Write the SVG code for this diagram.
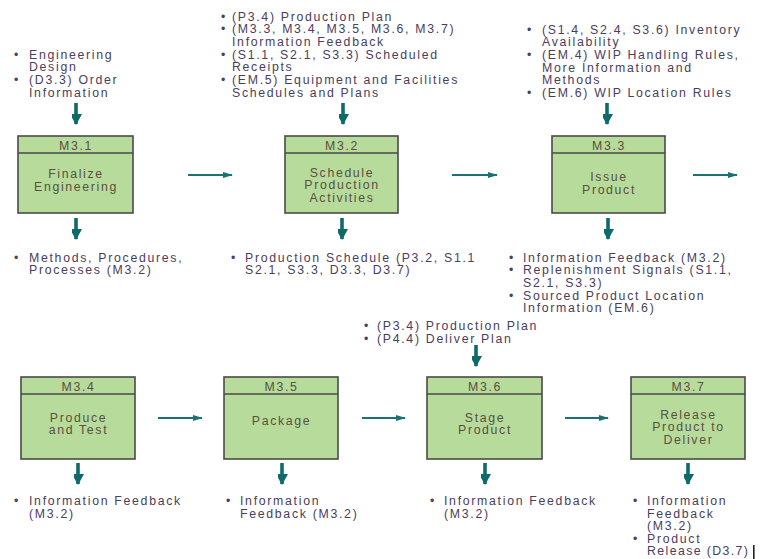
<svg xmlns="http://www.w3.org/2000/svg" width="762" height="559" viewBox="0 0 762 559">
<style>
.box{fill:#b7db9b;stroke:#4a4a4a;stroke-width:1.6}
.hdr{fill:none;stroke:#4a4a4a;stroke-width:1.3}
.bt{font-family:"Liberation Sans",Arial,sans-serif;font-size:12.3px;letter-spacing:1.65px;fill:#5a5040;text-anchor:middle}
.lt{font-family:"Liberation Sans",Arial,sans-serif;font-size:12.3px;letter-spacing:1.7px;fill:#4a3d60}
.h{stroke:#1a7272;stroke-width:2.2;fill:none}
.v{stroke:#0f6a6a;stroke-width:3.6;fill:none}
</style>
<defs>
<marker id="ah" markerWidth="10" markerHeight="8" refX="9" refY="4" orient="auto" markerUnits="userSpaceOnUse"><path d="M0,1 L10,4 L0,7 Z" fill="#1a7272"/></marker>
<marker id="av" markerWidth="12" markerHeight="10" refX="10" refY="6" orient="auto" markerUnits="userSpaceOnUse"><path d="M0,0 L11,6 L0,12 Z" fill="#0f6a6a"/></marker>
</defs>
<rect width="762" height="559" fill="#ffffff"/>

<g id="connectors">
<line class="h" x1="188" y1="175" x2="232" y2="175" marker-end="url(#ah)"/>
<line class="h" x1="452" y1="175" x2="497" y2="175" marker-end="url(#ah)"/>
<line class="h" x1="693" y1="175" x2="737" y2="175" marker-end="url(#ah)"/>
<line class="h" x1="158" y1="418" x2="202" y2="418" marker-end="url(#ah)"/>
<line class="h" x1="362" y1="418" x2="405" y2="418" marker-end="url(#ah)"/>
<line class="h" x1="565" y1="418" x2="608" y2="418" marker-end="url(#ah)"/>
<line class="v" x1="76" y1="103" x2="76" y2="124" marker-end="url(#av)"/>
<line class="v" x1="343" y1="103" x2="343" y2="124" marker-end="url(#av)"/>
<line class="v" x1="607" y1="103" x2="607" y2="124" marker-end="url(#av)"/>
<line class="v" x1="76" y1="218" x2="76" y2="239" marker-end="url(#av)"/>
<line class="v" x1="342" y1="218" x2="342" y2="239" marker-end="url(#av)"/>
<line class="v" x1="608" y1="218" x2="608" y2="239" marker-end="url(#av)"/>
<line class="v" x1="476" y1="345" x2="476" y2="366" marker-end="url(#av)"/>
<line class="v" x1="78" y1="463" x2="78" y2="484" marker-end="url(#av)"/>
<line class="v" x1="282" y1="463" x2="282" y2="484" marker-end="url(#av)"/>
<line class="v" x1="485" y1="463" x2="485" y2="484" marker-end="url(#av)"/>
<line class="v" x1="688" y1="463" x2="688" y2="484" marker-end="url(#av)"/>
</g>

<g id="m31">
<rect class="box" x="18" y="136" width="115" height="77"/>
<line class="hdr" x1="18" y1="153" x2="133" y2="153"/>
<text class="bt" x="76" y="149.5">M3.1</text>
<text class="bt" x="76" y="177.5">Finalize</text>
<text class="bt" x="76" y="190.5">Engineering</text>
</g>
<g id="m32">
<rect class="box" x="285" y="136" width="113" height="77"/>
<line class="hdr" x1="285" y1="153" x2="398" y2="153"/>
<text class="bt" x="342" y="149.5">M3.2</text>
<text class="bt" x="342" y="176.5">Schedule</text>
<text class="bt" x="342" y="189.2">Production</text>
<text class="bt" x="342" y="201.9">Activities</text>
</g>
<g id="m33">
<rect class="box" x="552" y="136" width="113" height="77"/>
<line class="hdr" x1="552" y1="153" x2="665" y2="153"/>
<text class="bt" x="609" y="149.5">M3.3</text>
<text class="bt" x="609" y="181">Issue</text>
<text class="bt" x="609" y="194">Product</text>
</g>
<g id="m34">
<rect class="box" x="21" y="377" width="114" height="82"/>
<line class="hdr" x1="21" y1="394" x2="135" y2="394"/>
<text class="bt" x="78.5" y="390.5">M3.4</text>
<text class="bt" x="78.5" y="421.5">Produce</text>
<text class="bt" x="78.5" y="434.2">and Test</text>
</g>
<g id="m35">
<rect class="box" x="224" y="377" width="114" height="82"/>
<line class="hdr" x1="224" y1="394" x2="338" y2="394"/>
<text class="bt" x="281.5" y="390.5">M3.5</text>
<text class="bt" x="281.5" y="424.5">Package</text>
</g>
<g id="m36">
<rect class="box" x="427" y="377" width="115" height="82"/>
<line class="hdr" x1="427" y1="394" x2="542" y2="394"/>
<text class="bt" x="485" y="390.5">M3.6</text>
<text class="bt" x="485" y="421.5">Stage</text>
<text class="bt" x="485" y="434.2">Product</text>
</g>
<g id="m37">
<rect class="box" x="631" y="377" width="114" height="82"/>
<line class="hdr" x1="631" y1="394" x2="745" y2="394"/>
<text class="bt" x="688.5" y="390.5">M3.7</text>
<text class="bt" x="688.5" y="418.5">Release</text>
<text class="bt" x="688.5" y="431.2">Product to</text>
<text class="bt" x="688.5" y="443.9">Deliver</text>
</g>

<g id="in31" class="lt">
<text x="14" y="58.5">•</text><text x="29" y="58.5">Engineering</text>
<text x="29" y="71.2">Design</text>
<text x="14" y="83.9">•</text><text x="29" y="83.9">(D3.3) Order</text>
<text x="29" y="96.6">Information</text>
</g>
<g id="in32" class="lt">
<text x="221" y="20.5">•</text><text x="232" y="20.5">(P3.4) Production Plan</text>
<text x="221" y="33.2">•</text><text x="232" y="33.2">(M3.3, M3.4, M3.5, M3.6, M3.7)</text>
<text x="232" y="45.9">Information Feedback</text>
<text x="221" y="58.6">•</text><text x="232" y="58.6">(S1.1, S2.1, S3.3) Scheduled</text>
<text x="232" y="71.3">Receipts</text>
<text x="221" y="84">•</text><text x="232" y="84">(EM.5) Equipment and Facilities</text>
<text x="232" y="96.7">Schedules and Plans</text>
</g>
<g id="in33" class="lt">
<text x="527" y="33.5">•</text><text x="542" y="33.5">(S1.4, S2.4, S3.6) Inventory</text>
<text x="542" y="46.2">Availability</text>
<text x="527" y="58.9">•</text><text x="542" y="58.9">(EM.4) WIP Handling Rules,</text>
<text x="542" y="71.6">More Information and</text>
<text x="542" y="84.3">Methods</text>
<text x="527" y="97">•</text><text x="542" y="97">(EM.6) WIP Location Rules</text>
</g>
<g id="out31" class="lt">
<text x="14" y="261.5">•</text><text x="29" y="261.5">Methods, Procedures,</text>
<text x="29" y="274.2">Processes (M3.2)</text>
</g>
<g id="out32" class="lt">
<text x="231" y="261.5">•</text><text x="245" y="261.5">Production Schedule (P3.2, S1.1</text>
<text x="245" y="274.2">S2.1, S3.3, D3.3, D3.7)</text>
</g>
<g id="out33" class="lt">
<text x="509" y="261.5">•</text><text x="523" y="261.5">Information Feedback (M3.2)</text>
<text x="509" y="274.2">•</text><text x="523" y="274.2">Replenishment Signals (S1.1,</text>
<text x="523" y="286.9">S2.1, S3.3)</text>
<text x="509" y="299.6">•</text><text x="523" y="299.6">Sourced Product Location</text>
<text x="523" y="312.3">Information (EM.6)</text>
</g>
<g id="in36" class="lt">
<text x="364" y="330.3">•</text><text x="377" y="330.3">(P3.4) Production Plan</text>
<text x="364" y="343">•</text><text x="377" y="343">(P4.4) Deliver Plan</text>
</g>
<g id="out34" class="lt">
<text x="14" y="505">•</text><text x="29" y="505">Information Feedback</text>
<text x="29" y="517.7">(M3.2)</text>
</g>
<g id="out35" class="lt">
<text x="226" y="505">•</text><text x="240" y="505">Information</text>
<text x="240" y="517.7">Feedback (M3.2)</text>
</g>
<g id="out36" class="lt">
<text x="430" y="505">•</text><text x="444" y="505">Information Feedback</text>
<text x="444" y="517.7">(M3.2)</text>
</g>
<g id="out37" class="lt">
<text x="633" y="505">•</text><text x="647" y="505">Information</text>
<text x="647" y="517.5">Feedback</text>
<text x="647" y="530">(M3.2)</text>
<text x="633" y="542.5">•</text><text x="647" y="542.5">Product</text>
<text x="647" y="555" style="letter-spacing:1.4px">Release (D3.7)</text>
</g>
<rect x="753" y="545" width="1.6" height="14" fill="#222"/>
</svg>
